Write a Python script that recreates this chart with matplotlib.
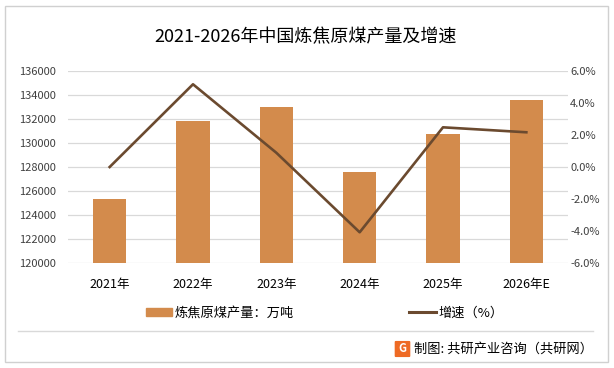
import matplotlib
matplotlib.use("Agg")
import matplotlib.pyplot as plt
from matplotlib.patches import Rectangle, FancyBboxPatch
from matplotlib.lines import Line2D

plt.rcParams['font.family'] = ['Noto Sans CJK SC', 'DejaVu Sans']

# data
years = ['2021年', '2022年', '2023年', '2024年', '2025年', '2026年E']
output = [125350, 131830, 133000, 127580, 130750, 133580]   # 万吨
growth = [0.0, 5.17, 0.89, -4.08, 2.48, 2.17]              # %

bar_color = '#D38B4C'
line_color = '#6B4A2F'
W, H = 614, 368

fig = plt.figure(figsize=(W / 100, H / 100), dpi=100)
ax = fig.add_axes([68 / W, (H - 263) / H, 500 / W, 192 / H])
ax2 = ax.twinx()

x = list(range(len(years)))
ax.bar(x, output, width=0.4, color=bar_color, zorder=2)
ax2.plot(x, growth, color=line_color, lw=1.9, zorder=3)

ax.set_xlim(-0.5, len(years) - 0.5)
ax.set_ylim(120000, 136000)
ax.set_yticks(range(120000, 136001, 2000))
ax2.set_ylim(-6, 6)
ax2.set_yticks(range(-6, 7, 2))
ax2.set_yticklabels([f'{v:.1f}%' for v in range(-6, 7, 2)])

ax.grid(axis='y', color='#D9D9D9', lw=0.9, zorder=0)
ax.set_axisbelow(True)
ax.set_xticks(x)
ax.set_xticklabels(years)
ax.tick_params(axis='x', length=0, pad=11, labelsize=9, labelcolor='#000000')
ax.tick_params(axis='y', length=0, pad=8.5, labelsize=8, labelcolor='#404040')
ax2.tick_params(axis='y', length=0, pad=1.5, labelsize=8, labelcolor='#404040')
for a in (ax, ax2):
    for s in a.spines.values():
        s.set_visible(False)

fig.text(306 / W, (H - 37) / H, '2021-2026年中国炼焦原煤产量及增速',
         ha='center', va='center', fontsize=13, color='#000000')

handles = [Rectangle((0, 0), 1, 1, color=bar_color),
           Line2D([0], [0], color=line_color, lw=2.2)]
fig.legend(handles, ['炼焦原煤产量：万吨', '增速（%）'], loc='center',
           bbox_to_anchor=(324.5 / W, (H - 313) / H), ncol=2, frameon=False,
           fontsize=9.5, handlelength=2.0, handleheight=0.6,
           handletextpad=0.2, columnspacing=8.75)

# separator and source line
fig.add_artist(Line2D([18 / W, 593 / W], [(H - 331) / H] * 2,
                      color='#D9D9D9', lw=1))
fig.text(593 / W, (H - 349) / H, '制图: 共研产业咨询（共研网）',
         ha='right', va='center', fontsize=9.5, color='#000000')
fig.add_artist(FancyBboxPatch((396 / W, (H - 356) / H), 13 / W, 14 / H,
                              boxstyle='round,pad=0.001', color='#EE6A24',
                              transform=fig.transFigure))
fig.text(402.5 / W, (H - 349) / H, 'G', ha='center', va='center',
         fontsize=8, color='white', fontweight='bold')

# outer frame
fig.add_artist(Rectangle((5 / W, (H - 362) / H), 603 / W, 356 / H,
                         fill=False, edgecolor='#D0D0D0', lw=1,
                         transform=fig.transFigure))

fig.savefig('out.png', dpi=100)
